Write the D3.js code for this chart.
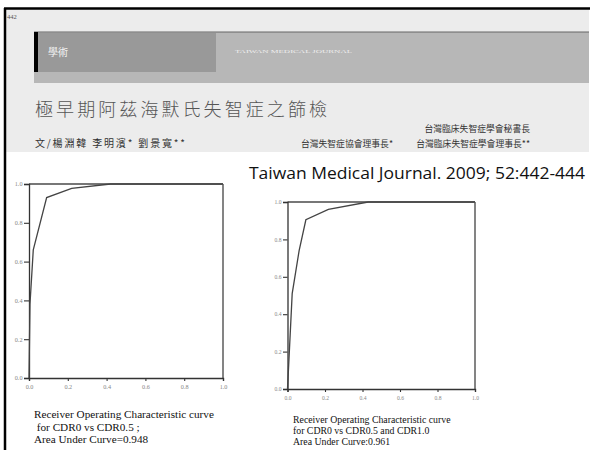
<!DOCTYPE html>
<html>
<head>
<meta charset="utf-8">
<script src="https://cdn.jsdelivr.net/npm/d3@7"></script>
<style>
  body { margin: 0; background: #fff; }
  svg text { font-family: "Liberation Serif", "DejaVu Serif", serif; }
  .cjk { font-family: "Noto Sans CJK TC", "Noto Sans CJK SC", sans-serif; }
</style>
</head>
<body>
<div id="container"></div>
<script>
// values
var tickValues = [0, 0.2, 0.4, 0.6, 0.8, 1.0];
var roc1 = [[0, 0], [0.005, 0.38], [0.022, 0.66], [0.091, 0.93], [0.22, 0.978], [0.42, 1.0], [1.0, 1.0]];
var roc2 = [[0, 0], [0.025, 0.51], [0.062, 0.74], [0.098, 0.905], [0.218, 0.96], [0.43, 1.0], [1.0, 1.0]];
var caption1 = ['Receiver Operating Characteristic curve', ' for CDR0 vs CDR0.5 ;', 'Area Under Curve=0.948'];
var caption2 = ['Receiver Operating Characteristic curve', 'for CDR0 vs CDR0.5 and CDR1.0', 'Area Under Curve:0.961'];
var pageNo = '442';
var section = '學術';
var journalSmall = 'TAIWAN MEDICAL JOURNAL';
var title = '極早期阿茲海默氏失智症之篩檢';
var authors = '文/楊淵韓 李明濱* 劉景寬**';
var affil1 = '台灣臨床失智症學會秘書長';
var affil2 = '台灣失智症協會理事長*';
var affil3 = '台灣臨床失智症學會理事長**';
var citation = 'Taiwan Medical Journal. 2009; 52:442-444';

var W = 592, H = 450;
var svg = d3.select('#container').append('svg')
  .attr('width', W).attr('height', H);

// page header scan
svg.append('rect').attr('x', 5).attr('y', 9).attr('width', 584).attr('height', 143).attr('fill', '#ececec');
svg.append('line').attr('x1', 4).attr('x2', 590).attr('y1', 8.5).attr('y2', 8.5)
  .attr('stroke', '#000').attr('stroke-width', 2.5);
svg.append('line').attr('x1', 5).attr('x2', 5).attr('y1', 8).attr('y2', H)
  .attr('stroke', '#000').attr('stroke-width', 2.5);
svg.append('text').attr('x', 7).attr('y', 19).attr('font-size', 6.5).attr('fill', '#555').text(pageNo);

svg.append('rect').attr('x', 34).attr('y', 32).attr('width', 555).attr('height', 51).attr('fill', '#b7b7b7');
svg.append('rect').attr('x', 38).attr('y', 33).attr('width', 178).attr('height', 39).attr('fill', '#999');
svg.append('line').attr('x1', 34).attr('x2', 589).attr('y1', 32).attr('y2', 32).attr('stroke', '#666').attr('stroke-width', 1);
svg.append('rect').attr('x', 34).attr('y', 32).attr('width', 4).attr('height', 40).attr('fill', '#000');
svg.append('text').attr('class', 'cjk').attr('x', 48).attr('y', 56).attr('font-size', 10).attr('fill', '#f4f4f4').text(section);
svg.append('text').attr('x', 235).attr('y', 53).attr('font-size', 5).attr('fill', '#eee')
  .attr('textLength', 117).attr('lengthAdjust', 'spacingAndGlyphs').text(journalSmall);

svg.append('text').attr('class', 'cjk').attr('x', 35).attr('y', 116).attr('font-size', 18)
  .attr('fill', '#555').attr('font-weight', 300)
  .attr('textLength', 292).attr('lengthAdjust', 'spacing').text(title);
svg.append('text').attr('class', 'cjk').attr('x', 35).attr('y', 147).attr('font-size', 10)
  .attr('fill', '#333').attr('textLength', 150).attr('lengthAdjust', 'spacing').text(authors);
svg.append('text').attr('class', 'cjk').attr('x', 530).attr('y', 132).attr('font-size', 8.8)
  .attr('fill', '#333').attr('text-anchor', 'end').text(affil1);
svg.append('text').attr('class', 'cjk').attr('x', 393).attr('y', 147).attr('font-size', 8.8)
  .attr('fill', '#333').attr('text-anchor', 'end').text(affil2);
svg.append('text').attr('class', 'cjk').attr('x', 530).attr('y', 147).attr('font-size', 8.8)
  .attr('fill', '#333').attr('text-anchor', 'end').text(affil3);

svg.append('text').attr('x', 249).attr('y', 179).attr('font-size', 16)
  .style('font-family', '"Open Sans", "Liberation Sans", sans-serif')
  .attr('fill', '#111').attr('textLength', 336).attr('lengthAdjust', 'spacingAndGlyphs').text(citation);

var fmt = d3.format('.1f');

function drawRoc(box, points, caption) {
  var x = d3.scaleLinear().domain([0, 1]).range([box.x0, box.x1]);
  var y = d3.scaleLinear().domain([0, 1]).range([box.y0, box.y1]);
  var g = svg.append('g');

  // frame top and right
  g.append('line').attr('x1', x(0)).attr('x2', x(1)).attr('y1', y(1)).attr('y2', y(1))
    .attr('stroke', '#777').attr('stroke-width', 1.8);
  g.append('line').attr('x1', x(1)).attr('x2', x(1)).attr('y1', y(0)).attr('y2', y(1))
    .attr('stroke', '#777').attr('stroke-width', 1.8);

  var yAxis = g.append('g').attr('transform', 'translate(' + x(0) + ',0)')
    .call(d3.axisLeft(y).tickValues(tickValues).tickFormat(fmt).tickSize(box.tick).tickPadding(1.5));
  var xAxis = g.append('g').attr('transform', 'translate(0,' + y(0) + ')')
    .call(d3.axisBottom(x).tickValues(tickValues).tickFormat(fmt).tickSize(3).tickPadding(4));
  [yAxis, xAxis].forEach(function(a) {
    a.select('.domain').attr('stroke', '#333').attr('stroke-width', 1.3);
    a.selectAll('.tick line').attr('stroke', '#333').attr('stroke-width', 1.1);
    a.selectAll('.tick text').attr('fill', '#888').attr('font-size', box.fs)
      .style('font-family', '"Liberation Serif", serif');
  });

  var line = d3.line().x(function(d) { return x(d[0]); }).y(function(d) { return y(d[1]); });
  g.append('path').datum(points).attr('d', line)
    .attr('fill', 'none').attr('stroke', '#444').attr('stroke-width', 1.3);

  g.selectAll('text.cap').data(caption).enter().append('text')
    .attr('class', 'cap')
    .attr('x', box.capX)
    .attr('y', function(d, i) { return box.capY + i * box.capDy; })
    .attr('font-size', box.capFs)
    .attr('fill', '#111')
    .style('white-space', 'pre')
    .text(function(d) { return d; });
}

drawRoc({x0: 29, x1: 223, y0: 378, y1: 184, tick: 5, fs: 6.2,
  capX: 34, capY: 418, capDy: 12.5, capFs: 11.2}, roc1, caption1);
drawRoc({x0: 287.5, x1: 475, y0: 389, y1: 202, tick: 4.5, fs: 5.6,
  capX: 293, capY: 423, capDy: 11, capFs: 9.8}, roc2, caption2);
</script>
</body>
</html>
